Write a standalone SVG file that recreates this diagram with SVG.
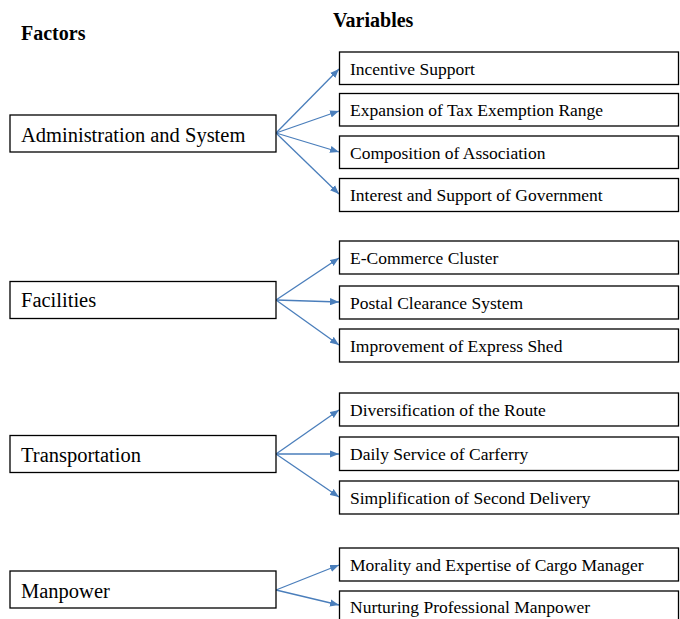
<svg xmlns="http://www.w3.org/2000/svg" width="680" height="619" viewBox="0 0 680 619">
  <defs>
    <marker id="arrow" viewBox="0 0 10 8" refX="10" refY="4" markerWidth="9" markerHeight="7.5" markerUnits="userSpaceOnUse" orient="auto">
      <path d="M0,0 L10,4 L0,8 z" fill="#4a7ebb"/>
    </marker>
    <style>
      .box { fill: #ffffff; stroke: #000000; stroke-width: 1.3; }
      .head { font-family: "Liberation Serif", "Times New Roman", serif; font-weight: bold; font-size: 20px; fill: #000; }
      .factor { font-family: "Liberation Serif", "Times New Roman", serif; font-size: 20.5px; fill: #000; }
      .var { font-family: "Liberation Serif", "Times New Roman", serif; font-size: 17.5px; fill: #000; }
      .link { stroke: #4a7ebb; stroke-width: 1.3; fill: none; marker-end: url(#arrow); }
    </style>
  </defs>
  <rect width="680" height="619" fill="#ffffff"/>

  <!-- column headings -->
  <text class="head" x="21" y="40">Factors</text>
  <text class="head" x="333" y="27">Variables</text>

  <!-- connectors -->
  <g id="connectors">
    <line class="link" x1="276" y1="133" x2="339" y2="69"/>
    <line class="link" x1="276" y1="133" x2="339" y2="111"/>
    <line class="link" x1="276" y1="133" x2="339" y2="152"/>
    <line class="link" x1="276" y1="133" x2="339" y2="194"/>

    <line class="link" x1="276" y1="300" x2="339" y2="258"/>
    <line class="link" x1="276" y1="300" x2="339" y2="302"/>
    <line class="link" x1="276" y1="300" x2="339" y2="345"/>

    <line class="link" x1="276" y1="454" x2="339" y2="410"/>
    <line class="link" x1="276" y1="454" x2="339" y2="454"/>
    <line class="link" x1="276" y1="454" x2="339" y2="497"/>

    <line class="link" x1="276" y1="590" x2="339" y2="565"/>
    <line class="link" x1="276" y1="590" x2="339" y2="605"/>
  </g>

  <!-- factor nodes -->
  <g id="factor-admin">
    <rect class="box" x="10" y="115" width="266" height="37"/>
    <text class="factor" x="21" y="142">Administration and System</text>
  </g>
  <g id="factor-facilities">
    <rect class="box" x="10" y="281.5" width="266" height="37"/>
    <text class="factor" x="21" y="307">Facilities</text>
  </g>
  <g id="factor-transportation">
    <rect class="box" x="10" y="435.5" width="266" height="37"/>
    <text class="factor" x="21" y="462">Transportation</text>
  </g>
  <g id="factor-manpower">
    <rect class="box" x="10" y="571" width="266" height="37"/>
    <text class="factor" x="21" y="598">Manpower</text>
  </g>

  <!-- variable nodes -->
  <g id="var-incentive">
    <rect class="box" x="339.5" y="52" width="339" height="32.5"/>
    <text class="var" x="350" y="75">Incentive Support</text>
  </g>
  <g id="var-tax">
    <rect class="box" x="339.5" y="93.5" width="339" height="32.5"/>
    <text class="var" x="350" y="116">Expansion of Tax Exemption Range</text>
  </g>
  <g id="var-association">
    <rect class="box" x="339.5" y="136" width="339" height="32.5"/>
    <text class="var" x="350" y="158.5">Composition of Association</text>
  </g>
  <g id="var-government">
    <rect class="box" x="339.5" y="178.5" width="339" height="33"/>
    <text class="var" x="350" y="201">Interest and Support of Government</text>
  </g>

  <g id="var-ecommerce">
    <rect class="box" x="339.5" y="241" width="339" height="33"/>
    <text class="var" x="350" y="264">E-Commerce Cluster</text>
  </g>
  <g id="var-postal">
    <rect class="box" x="339.5" y="286" width="339" height="33"/>
    <text class="var" x="350" y="309">Postal Clearance System</text>
  </g>
  <g id="var-shed">
    <rect class="box" x="339.5" y="329" width="339" height="33"/>
    <text class="var" x="350" y="352">Improvement of Express Shed</text>
  </g>

  <g id="var-route">
    <rect class="box" x="339.5" y="393" width="339" height="33"/>
    <text class="var" x="350" y="416">Diversification of the Route</text>
  </g>
  <g id="var-carferry">
    <rect class="box" x="339.5" y="437" width="339" height="33.5"/>
    <text class="var" x="350" y="460">Daily Service of Carferry</text>
  </g>
  <g id="var-delivery">
    <rect class="box" x="339.5" y="481" width="339" height="33"/>
    <text class="var" x="350" y="504">Simplification of Second Delivery</text>
  </g>

  <g id="var-cargo">
    <rect class="box" x="339.5" y="548" width="339" height="33"/>
    <text class="var" x="350" y="571">Morality and Expertise of Cargo Manager</text>
  </g>
  <g id="var-professional">
    <rect class="box" x="339.5" y="591" width="339" height="33"/>
    <text class="var" x="350" y="613">Nurturing Professional Manpower</text>
  </g>
</svg>
